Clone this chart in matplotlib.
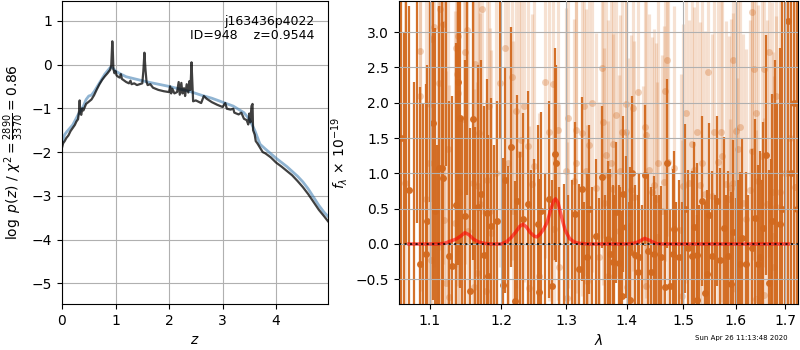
import numpy as np
import matplotlib
matplotlib.use("Agg")
import matplotlib.pyplot as plt
from matplotlib.ticker import FixedLocator, FixedFormatter, NullLocator

# ---------------- left panel data: log p(z) ----------------
z_pz = [0.0, 0.02, 0.05, 0.08, 0.12, 0.16, 0.20, 0.24, 0.27, 0.30, 0.32, 0.33, 0.34, 0.36, 0.38,
        0.40, 0.45, 0.50, 0.55, 0.60, 0.65, 0.70, 0.75, 0.80, 0.85, 0.90, 0.92, 0.94, 0.95, 0.96,
        0.98, 1.00, 1.02, 1.05, 1.08, 1.10, 1.12, 1.20, 1.25, 1.28, 1.30, 1.35, 1.40, 1.45, 1.50,
        1.52, 1.54, 1.56, 1.58, 1.60, 1.65, 1.70, 1.80, 1.90, 2.00, 2.02, 2.04, 2.06, 2.10, 2.15,
        2.18, 2.20, 2.23, 2.25, 2.28, 2.30, 2.33, 2.36, 2.38, 2.40, 2.42, 2.44, 2.45, 2.50, 2.55,
        2.60, 2.65, 2.70, 2.80, 2.90, 3.00, 3.05, 3.08, 3.15, 3.20, 3.22, 3.30, 3.35, 3.40, 3.45,
        3.48, 3.50, 3.52, 3.54, 3.56, 3.57, 3.60, 3.62, 3.65, 3.70, 3.75, 3.80, 3.90, 4.00, 4.10,
        4.20, 4.30, 4.40, 4.50, 4.60, 4.70, 4.80, 4.90, 4.97]
logp = [-1.90, -1.80, -1.75, -1.68, -1.62, -1.52, -1.45, -1.38, -1.30, -1.25, -1.05, -0.82, -1.10, -1.15, -1.00,
        -1.05, -0.90, -0.85, -0.80, -0.70, -0.57, -0.45, -0.35, -0.27, -0.20, -0.12, -0.02, 0.53, 0.30, -0.10,
        -0.20, -0.15, -0.25, -0.28, -0.30, -0.22, -0.33, -0.40, -0.43, -0.37, -0.45, -0.43, -0.47, -0.45, -0.43,
        -0.15, 0.27, -0.12, -0.40, -0.47, -0.45, -0.53, -0.58, -0.61, -0.63, -0.50, -0.66, -0.55, -0.66, -0.63,
        -0.40, -0.69, -0.42, -0.66, -0.54, -0.72, -0.45, -0.64, -0.38, -0.58, 0.05, -0.55, -0.84, -0.82, -0.85,
        -0.88, -0.72, -0.78, -0.86, -0.92, -0.97, -0.88, -1.01, -1.03, -1.01, -1.10, -1.14, -1.10, -1.24, -1.27,
        -1.37, -1.12, -1.32, -0.95, -0.90, -1.50, -1.60, -1.75, -1.80, -1.90, -2.00, -2.03, -2.12, -2.24, -2.33,
        -2.43, -2.53, -2.66, -2.80, -2.96, -3.14, -3.32, -3.47, -3.58]

z_smooth = [0.0, 0.05, 0.10, 0.20, 0.30, 0.40, 0.45, 0.50, 0.55, 0.60, 0.70, 0.80, 0.90, 0.95, 1.00,
            1.10, 1.20, 1.40, 1.60, 1.80, 2.00, 2.20, 2.40, 2.60, 2.80, 3.00, 3.20, 3.40, 3.50, 3.60,
            3.70, 3.80, 4.00, 4.20, 4.40, 4.50, 4.60, 4.70, 4.80, 4.90, 4.97]
logp_smooth = [-1.78, -1.60, -1.52, -1.38, -1.15, -0.95, -0.80, -0.72, -0.70, -0.62, -0.42, -0.22, -0.07, -0.08, -0.15,
               -0.22, -0.28, -0.34, -0.40, -0.45, -0.50, -0.56, -0.62, -0.70, -0.77, -0.86, -0.95, -1.10, -1.25, -1.50,
               -1.82, -1.93, -2.14, -2.33, -2.55, -2.68, -2.84, -3.03, -3.22, -3.38, -3.47]

# ---------------- right panel data: spectrum ----------------
lam_dark = [1.061, 1.065, 1.068, 1.072, 1.079, 1.083, 1.087, 1.091, 1.094, 1.096, 1.100, 1.104, 1.107, 1.110,
            1.112, 1.116, 1.118, 1.122, 1.126, 1.130, 1.135, 1.138, 1.141, 1.144, 1.148, 1.151, 1.155, 1.159,
            1.163, 1.167, 1.171, 1.175, 1.180, 1.181, 1.186, 1.190, 1.194, 1.198, 1.203, 1.206, 1.210, 1.215,
            1.221, 1.224, 1.228, 1.233, 1.240, 1.245, 1.250, 1.255, 1.257, 1.261, 1.266, 1.273, 1.277, 1.282,
            1.284, 1.289, 1.296, 1.303, 1.309, 1.314, 1.321, 1.325, 1.328, 1.333, 1.336, 1.341, 1.349, 1.354,
            1.359, 1.363, 1.368, 1.372, 1.376, 1.378, 1.381, 1.386, 1.389, 1.392, 1.394, 1.399, 1.402, 1.405,
            1.406, 1.409, 1.414, 1.419, 1.421, 1.427, 1.432, 1.437, 1.442, 1.447, 1.452, 1.456, 1.460, 1.467,
            1.471, 1.476, 1.482, 1.484, 1.488, 1.492, 1.498, 1.504, 1.509, 1.516, 1.520, 1.525, 1.526, 1.530,
            1.535, 1.541, 1.545, 1.549, 1.555, 1.560, 1.564, 1.570, 1.577, 1.582, 1.585, 1.591, 1.595, 1.600,
            1.604, 1.608, 1.612, 1.620, 1.625, 1.632, 1.639, 1.645, 1.648, 1.652, 1.655, 1.661, 1.666, 1.670,
            1.673, 1.678, 1.684, 1.689, 1.693, 1.699, 1.706, 1.712, 1.718, 1.724]
flux_dark = [1.50, -1.00, 4.00, 0.77, -1.20, 3.80, -0.28, -1.00, -0.14, 0.33, 3.60, 1.71, 0.46, -1.10,
             1.07, 1.07, 0.94, 3.60, -0.17, -0.31, 0.55, 2.30, 1.78, -1.00, 0.40, 3.70, -0.66, 1.77,
             -0.95, 0.53, 0.71, -0.15, 0.44, -0.46, 0.26, -1.00, 0.33, 3.50, -0.58, 0.91, -1.10, 1.37,
             -0.81, 0.61, -1.00, 0.35, 0.57, -0.95, -1.00, 0.28, -0.68, 0.47, -1.00, 0.63, -0.59, 1.28,
             1.14, -1.10, -0.95, -1.00, -0.90, 0.42, -0.35, 0.78, -1.00, -0.19, 0.49, -0.90, 0.11, -0.95,
             0.95, -1.00, 0.07, -0.14, -0.26, -0.90, 0.45, -0.27, -0.90, -0.73, 0.71, 0.24, -1.00, -0.80,
             -0.11, 1.00, -0.16, -0.40, -0.19, -0.95, 0.97, -0.10, -0.39, -0.14, -0.90, -1.00, -0.18, -0.61,
             1.14, -0.60, -0.14, 0.21, -0.90, -0.19, -1.00, 0.50, -0.05, -0.17, 0.24, -0.79, -0.16, -0.95,
             0.61, -0.70, -0.43, 0.41, -0.17, -0.90, 0.61, -0.23, 0.22, -1.00, -0.17, -0.57, 0.17, -0.95,
             -0.90, -0.28, 0.08, -0.28, -1.00, -0.06, 0.37, -0.28, -0.19, -0.90, 0.22, 1.26, -0.55, -1.00,
             0.32, -0.90, -1.00, 0.28, 0.50, -1.00, 3.16, 1.00, 2.00, 0.50]
err_dark = [4.0, 4.0, 4.0, 2.6, 3.5, 3.5, 2.5, 3.0, 2.4, 2.2, 3.0, 2.5, 2.6, 2.5,
            2.3, 2.4, 2.2, 2.5, 2.2, 2.4, 2.3, 2.6, 2.4, 2.8, 2.2, 3.0, 2.3, 2.0,
            2.6, 2.0, 1.9, 2.1, 1.9, 2.0, 1.8, 2.4, 1.7, 2.0, 1.8, 1.6, 2.2, 1.7,
            1.7, 1.5, 2.3, 1.5, 1.6, 2.0, 2.2, 1.4, 1.6, 1.4, 2.0, 1.4, 1.5, 1.5,
            1.4, 1.9, 1.8, 1.7, 1.8, 1.3, 1.2, 1.3, 1.6, 1.2, 1.2, 1.7, 1.1, 1.6,
            1.0, 1.7, 1.1, 1.2, 1.1, 1.6, 1.0, 1.1, 1.7, 1.2, 1.1, 1.0, 1.6, 1.1,
            1.2, 1.1, 1.0, 1.1, 1.2, 1.5, 1.0, 1.1, 1.2, 1.1, 1.6, 1.7, 1.0, 1.1,
            1.2, 1.1, 1.2, 1.1, 1.5, 1.1, 1.6, 1.2, 1.1, 1.2, 1.2, 1.2, 1.3, 1.5,
            1.2, 1.3, 1.2, 1.3, 1.2, 1.6, 1.2, 1.3, 1.3, 1.7, 1.2, 1.3, 1.3, 1.6,
            1.8, 1.3, 1.4, 1.3, 1.7, 1.4, 1.4, 1.4, 1.5, 1.8, 1.5, 1.7, 1.6, 2.2,
            1.8, 3.5, 3.0, 2.5, 5.0, 6.0, 5.0, 6.0, 6.0, 6.0]

lam_light = [1.067, 1.086, 1.087, 1.094, 1.099, 1.100, 1.102, 1.103, 1.105, 1.111, 1.112, 1.114, 1.118, 1.119,
             1.122, 1.124, 1.126, 1.134, 1.135, 1.137, 1.138, 1.139, 1.140, 1.147, 1.148, 1.151, 1.153, 1.159,
             1.161, 1.162, 1.165, 1.166, 1.168, 1.169, 1.172, 1.178, 1.180, 1.183, 1.184, 1.185, 1.193,
             1.199, 1.206, 1.210, 1.217, 1.218, 1.222, 1.227, 1.230, 1.234, 1.241, 1.242, 1.246, 1.250, 1.258,
             1.266, 1.273, 1.279, 1.280, 1.287, 1.289, 1.299, 1.301, 1.302, 1.312, 1.315, 1.316, 1.326, 1.329,
             1.332, 1.333, 1.337, 1.342,
             1.348, 1.354, 1.359, 1.360, 1.361, 1.365, 1.368, 1.369, 1.373, 1.376, 1.377, 1.382, 1.386, 1.388,
             1.392, 1.398, 1.399, 1.400, 1.403, 1.407, 1.410, 1.413, 1.420, 1.428, 1.431, 1.433, 1.434, 1.438,
             1.444, 1.448, 1.452, 1.453, 1.455, 1.461, 1.465, 1.467, 1.471, 1.472, 1.484, 1.496, 1.498, 1.500,
             1.506, 1.511, 1.516,
             1.521, 1.525, 1.532, 1.536, 1.540, 1.547, 1.555, 1.558, 1.566, 1.572, 1.574, 1.582, 1.587, 1.588,
             1.591, 1.594, 1.595, 1.600, 1.601, 1.603, 1.604, 1.609, 1.615, 1.621, 1.629, 1.632, 1.633, 1.637,
             1.640, 1.641, 1.645, 1.652, 1.656, 1.657, 1.663, 1.667, 1.673, 1.674, 1.677, 1.681, 1.682, 1.690,
             1.700, 1.710, 1.720]
flux_light = [0.86, 2.09, 2.73, 0.64, 1.14, 1.98, -0.23, 2.90, 3.07, 1.05, 2.28, 3.32, 3.11, 0.34,
              -0.55, 1.35, -0.75, 0.30, 2.77, 2.41, 2.14, 2.95, 0.73, 1.77, 2.72, 3.03, 0.19, 0.86,
              -0.61, 2.55, -0.41, 0.82, 1.57, 0.57, 3.33, -0.66, 0.91, 1.95, 0.46, 0.15, 1.01,
              2.28, 2.77, 1.14, 2.37, 0.47, 1.88, 1.27, 1.47, 1.96, 1.39, -0.63, 0.85, 1.11, -0.45,
              2.30, 1.59, 2.27, 0.21, 1.61, -0.32, 1.04, -0.76, 1.78, 0.89, 1.61, 1.15, 1.57, 1.95,
              1.03, -0.52, 1.40, 2.00,
              0.79, -0.19, 2.49, 1.72, 0.58, 1.26, -0.46, 0.97, 1.14, 1.42, 0.78, 1.83, 0.19, 1.04,
              1.59, 1.58, 1.98, -0.61, 0.44, 0.76, 1.92, 0.67, 2.15, 0.04, 1.66, 1.54, -0.60, 1.05,
              0.73, 0.84, 0.64, 0.10, 1.14, 0.47, 0.88, 2.16, 2.61, 1.16, 1.07, 0.20, -0.73, 0.82,
              1.85, 0.87, 1.42,
              1.05, 1.58, 0.84, 1.14, 0.71, 2.44, 0.68, 1.58, 1.16, 1.58, 1.25, 0.85, 0.64, -0.53,
              0.79, 0.87, 2.60, -0.64, 1.60, 0.05, 1.34, 1.66, 0.58, 0.36, 0.77, 1.31, 3.28, 2.48,
              -0.78, 1.86, 0.89, 1.24, -0.72, 2.48, 0.57, 2.72, 0.73, 0.12, -0.32, 0.53, 2.09, 0.73,
              1.00, 1.50, 0.80]
err_light = [3.9, 3.4, 3.4, 3.4, 3.2, 3.4, 3.2, 3.4, 3.4, 3.2, 3.3, 3.4, 3.4, 3.1,
             3.0, 3.1, 3.0, 3.0, 3.1, 3.0, 3.0, 3.1, 2.9, 2.9, 3.0, 3.0, 2.8, 2.8,
             2.8, 2.9, 2.7, 2.7, 2.8, 2.7, 2.9, 2.7, 2.6, 2.8, 2.6, 2.6, 2.6,
             2.6, 2.7, 2.5, 2.6, 2.4, 2.5, 2.4, 2.5, 2.5, 2.4, 2.3, 2.4, 2.4, 2.3,
             2.5, 2.4, 2.5, 2.3, 2.4, 2.3, 2.3, 2.2, 2.4, 2.3, 2.3, 2.3, 2.3, 2.4,
             2.3, 2.2, 2.3, 2.4,
             2.2, 2.2, 2.4, 2.3, 2.2, 2.3, 2.2, 2.2, 2.3, 2.3, 2.2, 2.3, 2.2, 2.2,
             2.3, 2.3, 2.3, 2.2, 2.2, 2.2, 2.3, 2.2, 2.4, 2.2, 2.3, 2.3, 2.2, 2.2,
             2.2, 2.2, 2.2, 2.2, 2.3, 2.2, 2.2, 2.4, 2.5, 2.3, 2.3, 2.2, 2.2, 2.3,
             2.4, 2.3, 2.3,
             2.3, 2.4, 2.3, 2.3, 2.3, 2.5, 2.3, 2.4, 2.4, 2.4, 2.4, 2.3, 2.3, 2.3,
             2.4, 2.4, 2.6, 2.3, 2.5, 2.3, 2.4, 2.5, 2.4, 2.4, 2.4, 2.5, 2.8, 2.7,
             2.4, 2.6, 2.5, 2.6, 2.5, 2.8, 2.6, 2.9, 2.7, 2.6, 2.7, 2.7, 3.0, 3.4,
             6.0, 6.0, 6.0]

lam_model = [1.072, 1.110, 1.120, 1.128, 1.136, 1.142, 1.148, 1.154, 1.160, 1.167, 1.175, 1.185, 1.200,
             1.208, 1.215, 1.222, 1.228, 1.233, 1.238, 1.244, 1.250, 1.254, 1.259, 1.265, 1.270, 1.275,
             1.280, 1.283, 1.287, 1.292, 1.298, 1.305, 1.312, 1.320, 1.335, 1.400, 1.412, 1.420, 1.431,
             1.440, 1.450, 1.460, 1.707]
flux_model = [0.0, 0.0, 0.01, 0.04, 0.07, 0.11, 0.16, 0.13, 0.07, 0.03, 0.01, 0.0, 0.0,
              0.03, 0.09, 0.17, 0.25, 0.28, 0.24, 0.16, 0.11, 0.10, 0.14, 0.22, 0.31, 0.47,
              0.61, 0.64, 0.58, 0.40, 0.20, 0.08, 0.03, 0.01, 0.0, 0.0, 0.01, 0.03, 0.08,
              0.05, 0.01, 0.0, 0.0]

lam_ticks = [1.1, 1.2, 1.3, 1.4, 1.5, 1.6, 1.7]
lam_ticklabels = ['1.1', '1.2', '1.3', '1.4', '1.5', '1.6', '1.7']

# ---------------- figure ----------------
fig = plt.figure(figsize=(8, 3.5), dpi=100)
axl = fig.add_axes([0.0775, 0.1314, 0.3325, 0.8657])
axr = fig.add_axes([0.49875, 0.1314, 0.49875, 0.8657])

axl.plot(z_smooth, logp_smooth, color='steelblue', alpha=0.6, lw=2.0)
axl.plot(z_pz, logp, color='k', alpha=0.75, lw=1.6)
axl.set_xlim(0, 4.97)
axl.set_ylim(-5.47, 1.45)
axl.set_xticks([0, 1, 2, 3, 4])
axl.set_yticks([-5, -4, -3, -2, -1, 0, 1])
axl.grid(True)
axl.set_xlabel(r'$z$')
axl.set_ylabel(r'$\log\ p(z)$ / $\chi^2=\frac{2890}{3370}=0.86$')
axl.text(0.95, 0.955, 'j163436p4022\nID=948    z=0.9544', transform=axl.transAxes,
         ha='right', va='top', fontsize=9, linespacing=1.1)

col = 'chocolate'
axr.errorbar(lam_light, flux_light, yerr=err_light, fmt='none', ecolor=col,
             elinewidth=2.3, capsize=0, alpha=0.2)
axr.plot(lam_light, flux_light, 'o', color=col, ms=5, mew=0, alpha=0.3)
axr.errorbar(lam_dark, flux_dark, yerr=err_dark, fmt='o', color=col, ms=5,
             elinewidth=1.6, capsize=0, alpha=0.95, mew=0)
axr.plot(lam_model, flux_model, color='red', alpha=0.6, lw=2.5, zorder=3)
axr.axhline(0, color='k', ls=':', lw=1.5, alpha=0.8, zorder=4)
axr.set_xscale('log')
axr.set_xlim(1.059, 1.727)
axr.set_ylim(-0.85, 3.44)
axr.xaxis.set_major_locator(FixedLocator(lam_ticks))
axr.xaxis.set_major_formatter(FixedFormatter(lam_ticklabels))
axr.xaxis.set_minor_locator(NullLocator())
axr.set_yticks([-0.5, 0.0, 0.5, 1.0, 1.5, 2.0, 2.5, 3.0])
axr.set_axisbelow(False)
axr.grid(True)
axr.set_xlabel(r'$\lambda$')
axr.set_ylabel(r'$f_\lambda\,\times\,10^{-19}$')

fig.text(0.985, 0.025, 'Sun Apr 26 11:13:48 2020', ha='right', va='bottom', fontsize=5)

fig.savefig('out.png', dpi=100)
